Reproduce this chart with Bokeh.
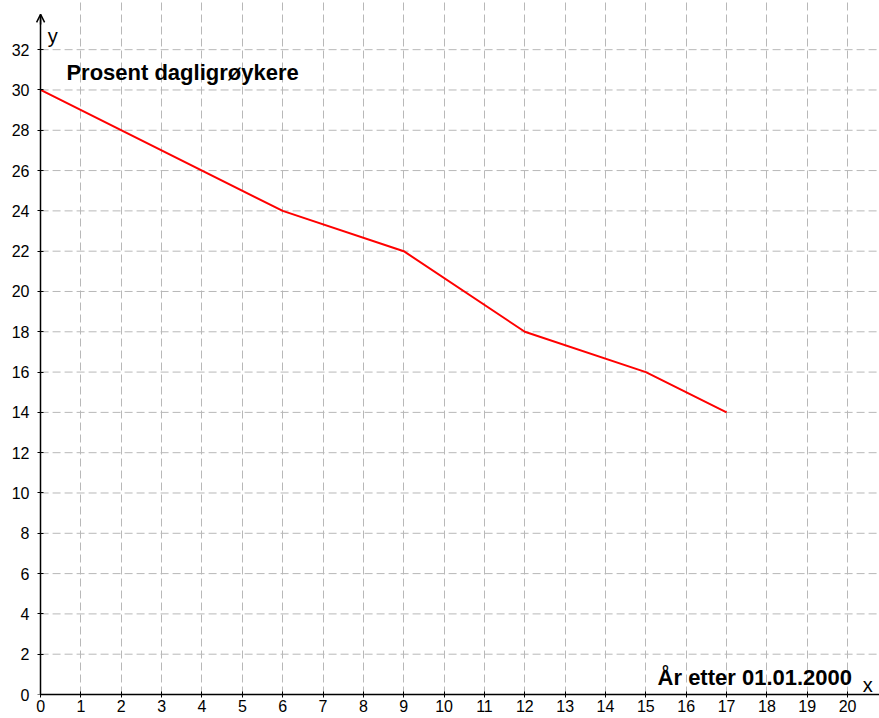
from bokeh.plotting import figure
from bokeh.models import (Range1d, FixedTicker, Label, Arrow, OpenHead, LinearAxis,
                          CustomJSTickFormatter)
from bokeh.embed import file_html
from bokeh.resources import INLINE

# data
years = [0, 6, 9, 12, 15, 17]
percent = [30, 24, 22, 18, 16, 14]
x_ticks = list(range(0, 21))
y_ticks = list(range(0, 33, 2))
title_text = "Prosent dagligrøykere"
x_title = "År etter 01.01.2000"

X_END = 20.79
Y_END = 34.44
Y_ARROW = 33.75

p = figure(width=879, height=718, output_backend="svg", toolbar_location=None,
           x_range=Range1d(-0.25, X_END), y_range=Range1d(0, Y_END),
           min_border_left=30, min_border_right=0, min_border_top=0, min_border_bottom=24)
p.outline_line_color = None
p.background_fill_color = "white"

# x axis (bottom frame edge == y=0)
xa = p.xaxis[0]
xa.ticker = FixedTicker(ticks=x_ticks)
xa.major_label_text_font = "Liberation Sans"
xa.major_label_text_font_size = "16px"
xa.major_label_text_color = "black"
xa.minor_tick_line_color = None
xa.major_tick_out = 3
xa.major_tick_in = 3
xa.major_tick_line_color = "black"
xa.axis_line_color = "black"
xa.axis_line_width = 1.5
xa.major_label_standoff = 2
xa.bounds = (0, X_END)

# y labels (at left frame edge, labels only)
ya = p.yaxis[0]
ya.ticker = FixedTicker(ticks=y_ticks)
ya.major_label_text_font = "Liberation Sans"
ya.major_label_text_font_size = "16px"
ya.major_label_text_color = "black"
ya.minor_tick_line_color = None
ya.major_tick_line_color = None
ya.major_tick_out = 0
ya.major_tick_in = 0
ya.axis_line_color = None
ya.major_label_standoff = 1

# y axis line + ticks at x = 0 (no labels)
yl = LinearAxis(ticker=FixedTicker(ticks=y_ticks), fixed_location=0,
                formatter=CustomJSTickFormatter(code="return ''"),
                major_label_standoff=0,
                major_tick_out=3, major_tick_in=3, major_tick_line_color="black",
                minor_tick_line_color=None, axis_line_color="black",
                axis_line_width=1.5, bounds=(0, Y_ARROW))
p.add_layout(yl, "left")

GRID = "#b8b8b8"
p.xgrid.ticker = FixedTicker(ticks=x_ticks[1:])
p.xgrid.grid_line_color = GRID
p.xgrid.grid_line_dash = "8 4"
p.xgrid.grid_line_width = 1
p.ygrid.grid_line_color = None

hy = y_ticks[1:]
p.segment(x0=[0] * len(hy), y0=hy, x1=[X_END] * len(hy), y1=hy,
          line_color=GRID, line_dash="8 4", line_width=1)

p.line(years, percent, line_color="#ff0000", line_width=2)

p.add_layout(Arrow(x_start=0, y_start=Y_ARROW - 0.5, x_end=0, y_end=Y_ARROW, line_width=1.5,
                   line_color="black",
                   end=OpenHead(size=8, line_width=1.5, line_color="black")))

p.add_layout(Label(x=0.64, y=30.87, text=title_text, text_font="Liberation Sans",
                   text_font_style="bold", text_font_size="22px", text_baseline="middle",
                   text_color="black"))
p.add_layout(Label(x=15.29, y=0.84, text=x_title, text_font="Liberation Sans",
                   text_font_style="bold", text_font_size="22px", text_baseline="middle",
                   text_color="black"))
p.add_layout(Label(x=0.30, y=32.66, text="y", text_font="Liberation Sans",
                   text_font_size="20px", text_baseline="middle", text_align="center",
                   text_color="black"))
p.add_layout(Label(x=20.5, y=0.45, text="x", text_font="Liberation Sans",
                   text_font_size="20px", text_baseline="middle", text_align="center",
                   text_color="black"))

open("out.html", "w").write(file_html(p, INLINE))
